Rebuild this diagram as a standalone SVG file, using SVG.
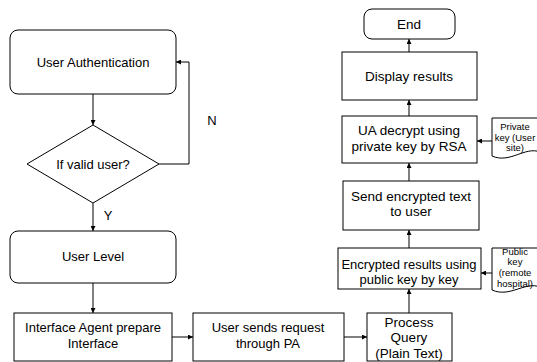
<svg xmlns="http://www.w3.org/2000/svg" width="537" height="362" viewBox="0 0 537 362">
<defs>
<style>
.box{fill:#fff;stroke:#000;stroke-width:1}
.t{font-family:"Liberation Sans",Arial,sans-serif;font-size:13px;fill:#000;text-anchor:middle}
.tl{font-family:"Liberation Sans",Arial,sans-serif;font-size:13.5px;fill:#000;text-anchor:middle}
.ts{font-family:"Liberation Sans",Arial,sans-serif;font-size:9.5px;fill:#000;text-anchor:middle}
.c{fill:none;stroke:#000;stroke-width:1;marker-end:url(#ah)}
</style>
<marker id="ah" viewBox="0 0 10 10" refX="10" refY="5" markerWidth="5" markerHeight="5" orient="auto" markerUnits="userSpaceOnUse">
<path d="M0,0 L10,5 L0,10 Z" fill="#000"/>
</marker>
</defs>
<rect width="537" height="362" fill="#fff"/>
<g id="connectors">
<path class="c" d="M93,94 V125"/>
<path class="c" d="M159,164 H189 V62 H176"/>
<path class="c" d="M93,203 V231"/>
<path class="c" d="M93,283 V313"/>
<path class="c" d="M172,337 H193"/>
<path class="c" d="M344,337 H367"/>
<path class="c" d="M409,313 V289"/>
<path class="c" d="M492,273 H481"/>
<path class="c" d="M409,248 V230"/>
<path class="c" d="M409,181 V163"/>
<path class="c" d="M492,141 H477"/>
<path class="c" d="M409,116 V100"/>
<path class="c" d="M409,52 V39"/>
</g>
<g id="auth">
<rect class="box" x="10" y="30" width="166" height="64" rx="8"/>
<text class="t" x="93" y="67">User Authentication</text>
</g>
<g id="valid">
<path class="box" d="M93,125 L159,164 L93,203 L27,164 Z"/>
<text class="t" x="93" y="169">If valid user?</text>
</g>
<g id="labelN"><text class="t" x="212" y="125">N</text></g>
<g id="labelY"><text class="t" x="108" y="220">Y</text></g>
<g id="level">
<rect class="box" x="10" y="231" width="166" height="52" rx="8"/>
<text class="t" x="93" y="261">User Level</text>
</g>
<g id="interface">
<rect class="box" x="14" y="313" width="158" height="48"/>
<text class="t" x="93" y="332">Interface Agent prepare</text>
<text class="t" x="93" y="348">Interface</text>
</g>
<g id="sends">
<rect class="box" x="193" y="313" width="151" height="48"/>
<text class="t" x="268" y="332">User sends request</text>
<text class="t" x="268" y="348">through PA</text>
</g>
<g id="process">
<rect class="box" x="367" y="313" width="85" height="48"/>
<text class="tl" x="409" y="327">Process</text>
<text class="tl" x="409" y="342">Query</text>
<text class="tl" x="409" y="358">(Plain Text)</text>
</g>
<g id="encrypt">
<rect class="box" x="338" y="248" width="143" height="41"/>
<text class="t" x="409" y="269">Encrypted results using</text>
<text class="t" x="409" y="284">public key by key</text>
</g>
<g id="pubkey">
<path class="box" d="M492,248 H540 V287 C525,281 510,298 492,290 Z"/>
<text class="ts" x="515" y="255">Public</text>
<text class="ts" x="515" y="265">key</text>
<text class="ts" x="515" y="276">(remote</text>
<text class="ts" x="515" y="287">hospital)</text>
</g>
<g id="send">
<rect class="box" x="343" y="181" width="136" height="49"/>
<text class="tl" x="411" y="201">Send encrypted text</text>
<text class="tl" x="411" y="216">to user</text>
</g>
<g id="decrypt">
<rect class="box" x="342" y="116" width="135" height="47"/>
<text class="tl" x="409" y="135">UA decrypt using</text>
<text class="tl" x="409" y="151">private key by RSA</text>
</g>
<g id="privkey">
<path class="box" d="M492,118 H540 V152 C525,146 510,164 492,156 Z"/>
<text class="ts" x="515" y="130">Private</text>
<text class="ts" x="515" y="141">key (User</text>
<text class="ts" x="515" y="151">site)</text>
</g>
<g id="display">
<rect class="box" x="342" y="52" width="135" height="48"/>
<text class="tl" x="409" y="81">Display results</text>
</g>
<g id="end">
<rect class="box" x="364" y="9" width="91" height="30" rx="8"/>
<text class="tl" x="409" y="29">End</text>
</g>
</svg>
